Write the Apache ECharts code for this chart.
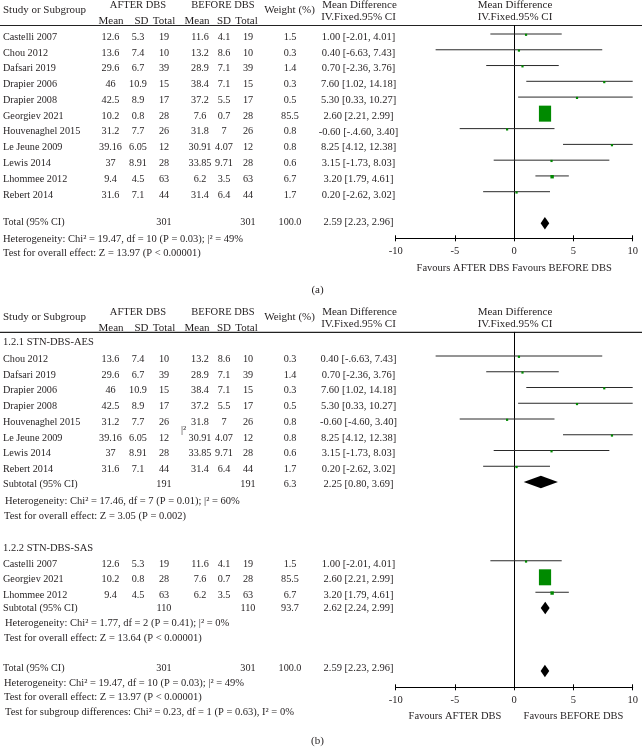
<!DOCTYPE html>
<html><head><meta charset="utf-8">
<script src="https://cdn.jsdelivr.net/npm/echarts@6/dist/echarts.min.js"></script>
<style>html,body{margin:0;padding:0;background:#fff}#c{width:642px;height:748px}</style>
</head><body><div id="c"></div>
<script>
// ---------------- DATA ----------------
const studyNames = ['Castelli 2007','Chou 2012','Dafsari 2019','Drapier 2006','Drapier 2008','Georgiev 2021','Houvenaghel 2015','Le Jeune 2009','Lewis 2014','Lhommee 2012','Rebert 2014'];
const afterMean  = [12.6, 13.6, 29.6, 46, 42.5, 10.2, 31.2, 39.16, 37, 9.4, 31.6];
const afterSD    = [5.3, 7.4, 6.7, 10.9, 8.9, 0.8, 7.7, 6.05, 8.91, 4.5, 7.1];
const afterN     = [19, 10, 39, 15, 17, 28, 26, 12, 28, 63, 44];
const beforeMean = [11.6, 13.2, 28.9, 38.4, 37.2, 7.6, 31.8, 30.91, 33.85, 6.2, 31.4];
const beforeSD   = [4.1, 8.6, 7.1, 7.1, 5.5, 0.7, 7, 4.07, 9.71, 3.5, 6.4];
const beforeN    = [19, 10, 39, 15, 17, 28, 26, 12, 28, 63, 44];
const weightPct  = [1.5, 0.3, 1.4, 0.3, 0.5, 85.5, 0.8, 0.8, 0.6, 6.7, 1.7];
const meanDiff   = [1.00, 0.40, 0.70, 7.60, 5.30, 2.60, -0.60, 8.25, 3.15, 3.20, 0.20];
const ciLow      = [-2.01, -6.63, -2.36, 1.02, 0.33, 2.21, -4.60, 4.12, -1.73, 1.79, -2.62];
const ciHigh     = [4.01, 7.43, 3.76, 14.18, 10.27, 2.99, 3.40, 12.38, 8.03, 4.61, 3.02];
const ciLabelsA  = ['1.00 [-2.01, 4.01]','0.40 [-6.63, 7.43]','0.70 [-2.36, 3.76]','7.60 [1.02, 14.18]','5.30 [0.33, 10.27]','2.60 [2.21, 2.99]','-0.60 [-.4.60, 3.40]','8.25 [4.12, 12.38]','3.15 [-1.73, 8.03]','3.20 [1.79, 4.61]','0.20 [-2.62, 3.02]'];
const ciLabelsB  = ['1.00 [-2.01, 4.01]','0.40 [-.6.63, 7.43]','0.70 [-2.36, 3.76]','7.60 [1.02, 14.18]','5.30 [0.33, 10.27]','2.60 [2.21, 2.99]','-0.60 [-4.60, 3.40]','8.25 [4.12, 12.38]','3.15 [-1.73, 8.03]','3.20 [1.79, 4.61]','0.20 [-2.62, 3.02]'];

const groupAES = [1, 2, 3, 4, 6, 7, 8, 10];
const groupSAS = [0, 5, 9];

const summaryNames = ['Total (95% CI)', 'Subtotal (95% CI)', 'Subtotal (95% CI)'];
const summaryN1    = [301, 191, 110];
const summaryN2    = [301, 191, 110];
const summaryW     = ['100.0', '6.3', '93.7'];
const summaryMD    = [2.59, 2.25, 2.62];
const summaryLo    = [2.23, 0.80, 2.24];
const summaryHi    = [2.96, 3.69, 2.99];
const summaryCI    = ['2.59 [2.23, 2.96]', '2.25 [0.80, 3.69]', '2.62 [2.24, 2.99]'];

const xTicks = [-10, -5, 0, 5, 10];

const notesA = ['Heterogeneity: Chi² = 19.47, df = 10 (P = 0.03); |² = 49%', 'Test for overall effect: Z = 13.97 (P < 0.00001)'];
const notesAES = ['Heterogeneity: Chi² = 17.46, df = 7 (P = 0.01); |² = 60%', 'Test for overall effect: Z = 3.05 (P = 0.002)'];
const notesSAS = ['Heterogeneity: Chi² = 1.77, df = 2 (P = 0.41); |² = 0%', 'Test for overall effect: Z = 13.64 (P < 0.00001)'];
const notesTotalB = ['Heterogeneity: Chi² = 19.47, df = 10 (P = 0.03); |² = 49%', 'Test for overall effect: Z = 13.97 (P < 0.00001)', 'Test for subgroup differences: Chi² = 0.23, df = 1 (P = 0.63), I² = 0%'];
const subgroupTitles = ['1.2.1 STN-DBS-AES', '1.2.2 STN-DBS-SAS'];

// ---------------- LAYOUT ----------------
const FONT = '"Liberation Serif", "DejaVu Serif", serif';
const TXT = '#231f20';
const NOTE_FS = 10.5, ROW_FS = 10.2, CI_FS = 10.5;
const plotLeft = 395.7, plotRight = 632.7;
const LA = {lineY: 25.5, axisY: 238.3, row0: 34, step: 15.77};
const LB = {lineY: 332.3, axisY: 687.3, row0: 340.25, step: 15.75};
const COL = {name: 3, aM: 110.5, aSD: 138, aN: 164, bM: 200, bSD: 224, bN: 248, wt: 290, ci: 358.5};

function studyCells(i, ciLabels) {
  return [
    {t: studyNames[i], x: COL.name, a: 'left'},
    {t: String(afterMean[i]), x: COL.aM}, {t: String(afterSD[i]), x: COL.aSD}, {t: String(afterN[i]), x: COL.aN},
    {t: String(beforeMean[i]), x: COL.bM}, {t: String(beforeSD[i]), x: COL.bSD}, {t: String(beforeN[i]), x: COL.bN},
    {t: weightPct[i].toFixed(1), x: COL.wt}, {t: ciLabels[i], x: COL.ci, fs: CI_FS}
  ];
}
function summaryCells(k) {
  return [
    {t: summaryNames[k], x: COL.name, a: 'left'},
    {t: String(summaryN1[k]), x: COL.aN}, {t: String(summaryN2[k]), x: COL.bN},
    {t: summaryW[k], x: COL.wt}, {t: summaryCI[k], x: COL.ci, fs: CI_FS}
  ];
}
function note(t, dx) { return {t: t, x: COL.name + (dx || 0), a: 'left', fs: NOTE_FS}; }

// ----- Panel A rows -----
const forestA = [], textA = [];
studyNames.forEach((n, i) => {
  forestA.push([meanDiff[i], i, ciLow[i], ciHigh[i], weightPct[i], 0]);
  textA.push({row: i + 0.2, cells: studyCells(i, ciLabelsA)});
});
forestA.push([summaryMD[0], 12, summaryLo[0], summaryHi[0], 100, 1]);
textA.push({row: 11.95, cells: summaryCells(0)});
textA.push({row: 13.0, cells: [note(notesA[0])]});
textA.push({row: 13.89, cells: [note(notesA[1])]});
textA.push({row: 14.85, cells: [{t: 'Favours AFTER DBS Favours BEFORE DBS', xv: 0, fs: 10.5}]});

// ----- Panel B rows -----
const forestB = [], textB = [];
textB.push({row: 0.11, cells: [{t: subgroupTitles[0], x: COL.name, a: 'left', fs: 10.5}]});
groupAES.forEach((s, k) => {
  const r = k + 1;
  forestB.push([meanDiff[s], r, ciLow[s], ciHigh[s], weightPct[s], 0]);
  textB.push({row: r + 0.2, cells: studyCells(s, ciLabelsB)});
});
forestB.push([summaryMD[1], 9, summaryLo[1], summaryHi[1], 100, 1]);
textB.push({row: 9.13, cells: summaryCells(1)});
textB.push({row: 10.25, cells: [note(notesAES[0], 2)]});
textB.push({row: 11.15, cells: [note(notesAES[1], 1)]});
textB.push({row: 5.7, cells: [{t: '|²', x: 181, a: 'left'}]});
textB.push({row: 13.19, cells: [{t: subgroupTitles[1], x: COL.name, a: 'left', fs: 10.5}]});
groupSAS.forEach((s, k) => {
  const r = k + 14;
  forestB.push([meanDiff[s], r, ciLow[s], ciHigh[s], weightPct[s], 0]);
  textB.push({row: r + 0.2, cells: studyCells(s, ciLabelsB)});
});
forestB.push([summaryMD[2], 17, summaryLo[2], summaryHi[2], 100, 1]);
textB.push({row: 17.0, cells: summaryCells(2)});
textB.push({row: 17.95, cells: [note(notesSAS[0], 2)]});
textB.push({row: 18.9, cells: [note(notesSAS[1], 1)]});
forestB.push([summaryMD[0], 21, summaryLo[0], summaryHi[0], 100, 1]);
textB.push({row: 20.8, cells: summaryCells(0)});
textB.push({row: 21.76, cells: [note(notesTotalB[0], 1)]});
textB.push({row: 22.65, cells: [note(notesTotalB[1], 1)]});
textB.push({row: 23.6, cells: [note(notesTotalB[2], 2)]});
textB.push({row: 23.9, cells: [{t: 'Favours AFTER DBS', xv: -5, fs: 10.5}, {t: 'Favours BEFORE DBS', xv: 5, fs: 10.5}]});

// ---------------- RENDERERS ----------------
const xMin = xTicks[0], xMax = xTicks[xTicks.length - 1];
function renderForest(params, api) {
  const md = api.value(0), row = api.value(1), lo = api.value(2), hi = api.value(3), w = api.value(4), kind = api.value(5);
  const c = api.coord([md, row]);
  if (kind === 1) {
    const pl = api.coord([lo, row]), ph = api.coord([hi, row]);
    const h = 6.2;
    return {type: 'polygon', shape: {points: [[pl[0], c[1]], [c[0], c[1] - h], [ph[0], c[1]], [c[0], c[1] + h]]}, style: {fill: '#000'}};
  }
  const xl = api.coord([Math.max(lo, xMin), row])[0];
  const xh = api.coord([Math.min(hi, xMax), row])[0];
  const f = Math.sqrt(w / 85.5);
  const bw = Math.max(2.2, 12.2 * f);
  const bh = Math.max(2.2, (w > 50 ? 16 : 12.2) * f);
  return {type: 'group', children: [
    {type: 'line', shape: {x1: xl, y1: c[1], x2: xh, y2: c[1]}, style: {stroke: '#2a2a2a', lineWidth: 1}},
    {type: 'rect', shape: {x: c[0] - bw / 2, y: c[1] - bh / 2 + 0.8, width: bw, height: bh}, style: {fill: '#008a00'}}
  ]};
}
function makeTextRenderer(rows) {
  return function (params, api) {
    const r = rows[params.dataIndex];
    const y = api.coord([0, api.value(1)])[1];
    return {type: 'group', children: r.cells.map(cell => ({
      type: 'text',
      style: {
        text: cell.t,
        x: cell.xv !== undefined ? api.coord([cell.xv, 0])[0] : cell.x,
        y: y,
        align: cell.a || 'center', verticalAlign: 'middle',
        fontFamily: FONT, fontSize: cell.fs || ROW_FS, fill: TXT
      }
    }))};
  };
}

function yRange(L) { return [(L.lineY - L.row0) / L.step, (L.axisY - L.row0) / L.step]; }
const yrA = yRange(LA), yrB = yRange(LB);

function mkGrid(L) { return {left: plotLeft, width: plotRight - plotLeft, top: L.lineY, height: L.axisY - L.lineY, containLabel: false}; }
function mkX(g, main) {
  return {
    gridIndex: g, type: 'value', min: xMin, max: xMax, interval: 5, position: 'bottom',
    axisLine: {show: main, onZero: false, lineStyle: {color: '#000', width: 1}},
    axisTick: {show: true, inside: !main, length: 3, lineStyle: {color: '#000', width: 1}},
    axisLabel: {show: main, margin: 7, color: TXT, fontFamily: FONT, fontSize: 10.5},
    splitLine: {show: false}
  };
}
function mkY(g, yr) {
  return {
    gridIndex: g, type: 'value', inverse: true, min: yr[0], max: yr[1],
    axisLine: {show: true, onZero: true, lineStyle: {color: '#000', width: 1}},
    axisTick: {show: false}, axisLabel: {show: false}, splitLine: {show: false}
  };
}

// ---------------- HEADERS (graphic) ----------------
function headerGraphics(L, label, labelY) {
  const d = L.lineY - LA.lineY;
  const t = (text, x, y, align, fs) => ({type: 'text', style: {text, x, y: y + d, align: align || 'center', verticalAlign: 'middle', fontFamily: FONT, fontSize: fs || 11, fill: TXT}});
  return [
    t('Study or Subgroup', 3, 10.5, 'left'),
    t('AFTER DBS', 138, 5.5, 'center', 10.5),
    t('BEFORE DBS', 223, 5.5, 'center', 10.5),
    t('Mean', 111, 21, 'center'), t('SD', 141.5, 21), t('Total', 164, 21),
    t('Mean', 197, 21), t('SD', 224, 21), t('Total', 246.5, 21),
    t('Weight (%)', 289.5, 10.5),
    t('Mean Difference', 359.5, 5.5), t('IV.Fixed.95% CI', 358.5, 17.5),
    t('Mean Difference', 515, 5.5), t('IV.Fixed.95% CI', 515, 17.5),
    {type: 'line', shape: {x1: 0, y1: L.lineY, x2: 642, y2: L.lineY}, style: {stroke: '#222', lineWidth: 1.2}},
    {type: 'text', style: {text: label, x: 317.5, y: labelY, align: 'center', verticalAlign: 'middle', fontFamily: FONT, fontSize: 11, fill: TXT}}
  ];
}

const chart = echarts.init(document.getElementById('c'), null, {renderer: 'canvas'});
chart.setOption({
  animation: false,
  backgroundColor: '#fff',
  grid: [mkGrid(LA), mkGrid(LB)],
  xAxis: [mkX(0, true), mkX(0, false), mkX(1, true), mkX(1, false)],
  yAxis: [mkY(0, yrA), mkY(1, yrB)],
  graphic: [].concat(headerGraphics(LA, '(a)', 290), headerGraphics(LB, '(b)', 741)),
  series: [
    {type: 'custom', xAxisIndex: 0, yAxisIndex: 0, renderItem: renderForest, data: forestA, encode: {x: 0, y: 1}, silent: true},
    {type: 'custom', xAxisIndex: 0, yAxisIndex: 0, renderItem: makeTextRenderer(textA), data: textA.map(r => [0, r.row]), encode: {x: 0, y: 1}, silent: true},
    {type: 'custom', xAxisIndex: 2, yAxisIndex: 1, renderItem: renderForest, data: forestB, encode: {x: 0, y: 1}, silent: true},
    {type: 'custom', xAxisIndex: 2, yAxisIndex: 1, renderItem: makeTextRenderer(textB), data: textB.map(r => [0, r.row]), encode: {x: 0, y: 1}, silent: true}
  ]
});
</script>
</body></html>
